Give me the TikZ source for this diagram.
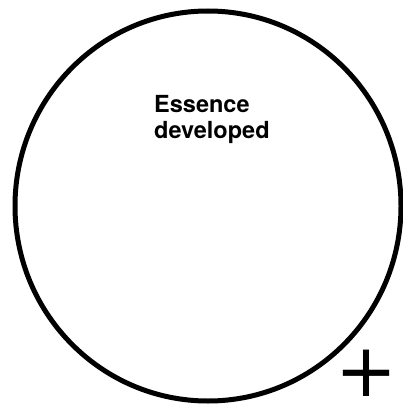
\documentclass[tikz,border=0pt]{standalone}
\usepackage{fontspec}
\setsansfont{TeX Gyre Heros}
\newfontfamily\signfont{DejaVu Sans}

\begin{document}
\begin{tikzpicture}[x=1pt, y=-1pt, line cap=round]
  % page frame of the scan
  \useasboundingbox (0,0) rectangle (403,406);
  % the circle
  \coordinate (C) at (208,206);
  \draw[line width=5pt] (C) ellipse [x radius=193, y radius=195];
  % label inside the circle
  \node[anchor=north west, align=left, inner sep=0,
        font=\sffamily\bfseries\fontsize{23.5}{26}\selectfont] (essence) at (154,95) {Essence\\developed};
  % sign outside, lower right
  \node[inner sep=0, font=\signfont\fontsize{74}{74}\selectfont] (plus) at (366,373) {+};
\end{tikzpicture}
\end{document}
